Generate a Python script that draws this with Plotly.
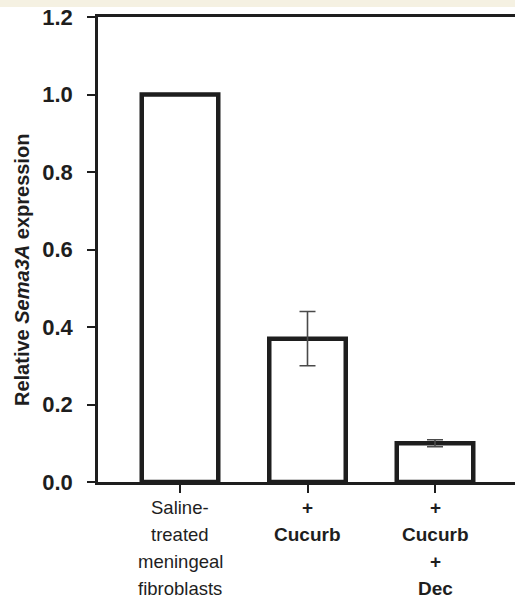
import plotly.graph_objects as go

categories = [0, 1, 2]
values = [1.0, 0.37, 0.10]
errors = [None, 0.07, 0.009]
label_lines = [
    ["Saline-", "treated", "meningeal", "fibroblasts"],
    ["+", "Cucurb"],
    ["+", "Cucurb", "+", "Dec"],
]
label_bold = [False, True, True]
y_ticks = [0.0, 0.2, 0.4, 0.6, 0.8, 1.0, 1.2]
y_ticktext = ["0.0", "0.2", "0.4", "0.6", "0.8", "1.0", "1.2"]

W, H = 515, 598
top, bottom, left = 17, 482, 98
plot_h = bottom - top

fig = go.Figure()
fig.add_trace(go.Bar(
    x=categories, y=values, width=0.6,
    marker=dict(color="white", line=dict(color="#1e1e1e", width=4.5)),
    showlegend=False,
))
err_idx = [i for i, e in enumerate(errors) if e is not None]
fig.add_trace(go.Scatter(
    x=[categories[i] for i in err_idx], y=[values[i] for i in err_idx],
    mode="markers", marker=dict(size=0.1, opacity=0),
    error_y=dict(type="data", array=[errors[i] for i in err_idx], visible=True,
                 color="#4a4a4a", thickness=1.6, width=8),
    showlegend=False, hoverinfo="skip",
))

font_fam = "Liberation Sans, Arial, sans-serif"
annotations = []
line_px = [507, 534, 561, 588]
for i, lines in enumerate(label_lines):
    for j, t in enumerate(lines):
        txt = "<b>%s</b>" % t if label_bold[i] else t
        annotations.append(dict(
            x=categories[i], xref="x",
            y=(bottom - line_px[j]) / plot_h, yref="paper",
            text=txt, showarrow=False, xanchor="center", yanchor="middle",
            font=dict(family=font_fam, size=19 if label_bold[i] else 18.5, color="#1e1e1e"),
        ))
annotations.append(dict(
    x=(22 - left) / (W - left), xref="paper",
    y=(bottom - 270) / plot_h, yref="paper",
    text="<b>Relative <i>Sema3A</i> expression</b>", textangle=-90,
    showarrow=False, xanchor="center", yanchor="middle",
    font=dict(family=font_fam, size=20, color="#1e1e1e"),
))

fig.add_shape(type="rect", xref="paper", yref="paper",
              x0=-1, x1=2, y0=(bottom - 7) / plot_h, y1=(bottom + 2) / plot_h,
              fillcolor="#f5f1e2", line=dict(width=0), layer="below")

fig.update_layout(
    width=W, height=H,
    margin=dict(l=left, r=0, t=top, b=H - bottom, pad=0),
    paper_bgcolor="white", plot_bgcolor="white",
    annotations=annotations,
    xaxis=dict(
        range=[(left - 180) / 127.5, (W - 180) / 127.5],
        tickvals=categories, ticktext=["", "", ""],
        ticks="outside", ticklen=8, tickwidth=1.5, tickcolor="#1e1e1e",
        showline=True, linecolor="#1e1e1e", linewidth=2.5, mirror=True,
        showgrid=False, zeroline=False,
    ),
    yaxis=dict(
        range=[0, 1.2],
        tickvals=y_ticks, ticktext=["<b>%s</b>" % t for t in y_ticktext],
        ticks="outside", ticklen=8, tickwidth=1.5, tickcolor="#1e1e1e",
        ticklabelstandoff=10,
        tickfont=dict(family=font_fam, size=22, color="#1e1e1e"),
        showline=True, linecolor="#1e1e1e", linewidth=2.5,
        showgrid=False, zeroline=False,
    ),
)

fig.write_html("out.html")
